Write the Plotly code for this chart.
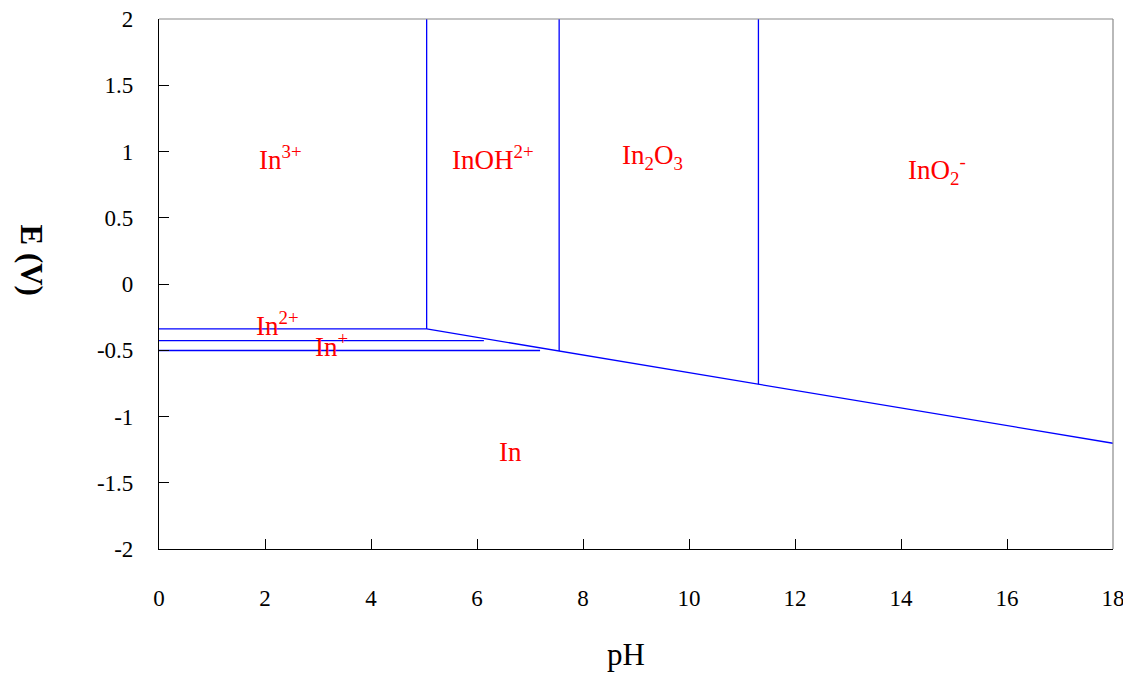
import plotly.graph_objects as go

# ---- data ----
E_top = 2.0
vert_ph = [5.05, 7.55, 11.31]
vert_E_bottom = [-0.339, -0.505, -0.757]
slope_ph = [5.05, 18.0]
slope_E = [-0.339, -1.202]
horiz_E = [-0.339, -0.427, -0.502]
horiz_ph_start = [0.0, 0.0, 0.0]
horiz_ph_end = [5.05, 6.13, 7.19]

label_text = ["In<sup>3+</sup>", "InOH<sup>2+</sup>", "In<sub>2</sub>O<sub>3</sub>",
              "InO<sub>2</sub><sup>-</sup>", "In<sup>2+</sup>", "In<sup>+</sup>", "In"]
label_ph = [2.3, 6.3, 9.32, 14.68, 2.24, 3.25, 6.64]
label_E = [0.95, 0.95, 0.96, 0.86, -0.30, -0.46, -1.27]

x_ticks = [0, 2, 4, 6, 8, 10, 12, 14, 16, 18]
x_ticktext = ["0", "2", "4", "6", "8", "10", "12", "14", "16", "18"]
y_ticks = [-2, -1.5, -1, -0.5, 0, 0.5, 1, 1.5, 2]
y_ticktext = ["-2", "-1.5", "-1", "-0.5", "0", "0.5", "1", "1.5", "2"]

FONT = "Liberation Serif"
LINE = dict(color="#0000FF", width=1.3)

fig = go.Figure()

for ph, eb in zip(vert_ph, vert_E_bottom):
    fig.add_trace(go.Scatter(x=[ph, ph], y=[E_top, eb], mode="lines",
                             line=LINE, hoverinfo="skip", showlegend=False))

fig.add_trace(go.Scatter(x=slope_ph, y=slope_E, mode="lines",
                         line=LINE, hoverinfo="skip", showlegend=False))

for x0, x1, e in zip(horiz_ph_start, horiz_ph_end, horiz_E):
    fig.add_trace(go.Scatter(x=[x0, x1], y=[e, e], mode="lines",
                             line=LINE, hoverinfo="skip", showlegend=False))

# invisible trace to carry the overlay axes that draw the inside ticks
fig.add_trace(go.Scatter(x=[x_ticks[0]], y=[y_ticks[0]], xaxis="x2", yaxis="y2",
                         mode="markers", marker=dict(opacity=0),
                         hoverinfo="skip", showlegend=False))

for t, px, pe in zip(label_text, label_ph, label_E):
    fig.add_annotation(x=px, y=pe, text=t, showarrow=False,
                       font=dict(family=FONT, size=27, color="#FF0000"),
                       xanchor="center", yanchor="middle")

# axis titles
fig.add_annotation(x=-0.134, y=0.546, xref="paper", yref="paper",
                   text="<b>E (V)</b>", textangle=90, showarrow=False,
                   font=dict(family=FONT, size=31, color="black"),
                   xanchor="center", yanchor="middle")
fig.add_annotation(x=0.4895, y=-0.199, xref="paper", yref="paper",
                   text="pH", showarrow=False,
                   font=dict(family=FONT, size=31, color="black"),
                   xanchor="center", yanchor="middle")

# gray top and right frame lines
fig.add_shape(type="line", xref="x domain", yref="y domain", x0=0, x1=1, y0=1, y1=1,
              line=dict(color="#8a8a8a", width=1.2))
fig.add_shape(type="line", xref="x domain", yref="y domain", x0=1, x1=1, y0=0, y1=1,
              line=dict(color="#8a8a8a", width=1.2))

tickfont = dict(family=FONT, size=23, color="black")

fig.update_layout(
    template="none",
    width=1123, height=671,
    margin=dict(l=151, r=18, t=11, b=130, autoexpand=False),
    paper_bgcolor="white", plot_bgcolor="white",
    font=dict(family=FONT, color="black", size=23),
    xaxis=dict(range=[0, 18], tickmode="array", tickvals=x_ticks, ticktext=x_ticktext,
               automargin=False, showgrid=False, zeroline=False,
               showline=True, linecolor="black", linewidth=1.2,
               ticks="outside", ticklen=28, tickcolor="rgba(0,0,0,0)",
               ticklabeloverflow="allow", tickfont=tickfont),
    yaxis=dict(range=[-2, 2], tickmode="array", tickvals=y_ticks, ticktext=y_ticktext,
               automargin=False, showgrid=False, zeroline=False,
               showline=True, linecolor="black", linewidth=1.2,
               ticks="outside", ticklen=20, tickcolor="rgba(0,0,0,0)",
               ticklabeloverflow="allow", tickfont=tickfont),
    xaxis2=dict(overlaying="x", matches="x", anchor="y2", side="bottom",
                tickmode="array", tickvals=x_ticks, showticklabels=False,
                automargin=False, showgrid=False, zeroline=False, showline=False,
                ticks="inside", ticklen=10, tickcolor="black", tickwidth=1),
    yaxis2=dict(overlaying="y", matches="y", anchor="x2", side="left",
                tickmode="array", tickvals=y_ticks, showticklabels=False,
                automargin=False, showgrid=False, zeroline=False, showline=False,
                ticks="inside", ticklen=10, tickcolor="black", tickwidth=1),
)

fig.write_html("out.html")
